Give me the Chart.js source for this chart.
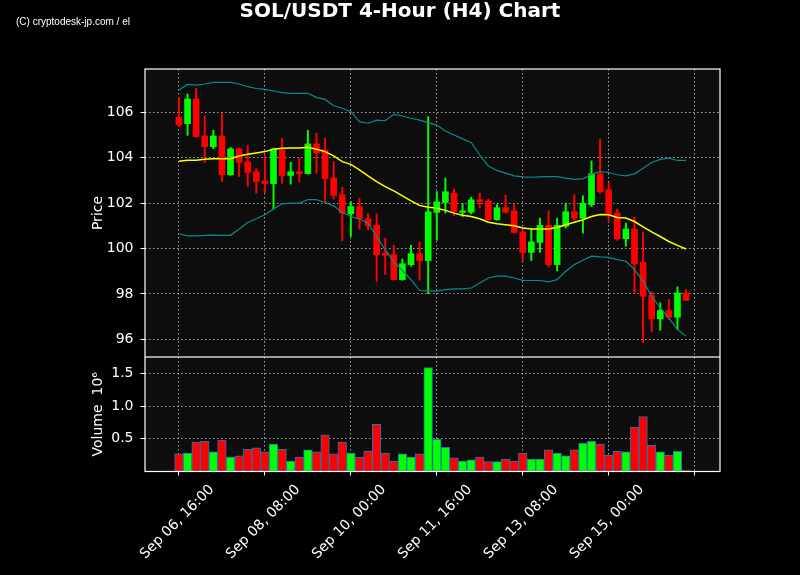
<!DOCTYPE html>
<html>
<head>
<meta charset="utf-8">
<script src="https://cdn.jsdelivr.net/npm/chart.js@4.4.1/dist/chart.umd.min.js"></script>
<style>
  html, body { margin: 0; padding: 0; background: #000; }
  #wrap { position: relative; width: 800px; height: 575px; background: #000; overflow: hidden; }
  #title { position: absolute; left: 0; top: 0; width: 800px; text-align: center; color: #fff;
           font: bold 20px/20px "DejaVu Sans"; }
  #credit { position: absolute; left: 16px; top: 16px; color: #fff; font: 10px/12px "Liberation Sans"; }
  canvas { position: absolute; left: 0; }
  #price { top: 0; }
  #volume { top: 357px; }
</style>
</head>
<body>
<div id="wrap">
  <canvas id="price" width="800" height="357"></canvas>
  <canvas id="volume" width="800" height="218"></canvas>
  <div id="title">SOL/USDT 4-Hour (H4) Chart</div>
  <div id="credit">(C) cryptodesk-jp.com / el</div>
</div>
<script>
// SOL/USDT 4h candles (60 bars, Sep 06 16:00 onwards)
const opens  = [105.78, 105.50, 106.59, 104.96, 104.48, 104.96, 103.25, 104.39, 103.82, 103.38,
                102.98, 102.86, 104.34, 103.22, 103.38, 103.30, 104.61, 104.34, 103.11, 102.37,
                101.53, 101.85, 101.31, 101.02, 99.80, 99.73, 98.63, 99.29, 99.77, 99.47,
                101.59, 102.03, 102.44, 101.59, 101.60, 102.15, 102.10, 101.27, 101.80, 101.66,
                100.73, 99.83, 100.27, 101.02, 99.29, 100.98, 101.62, 101.34, 101.93, 103.29,
                102.59, 101.56, 100.43, 100.86, 99.39, 97.93, 96.90, 97.27, 96.97, 98.04];
const highs  = [106.66, 106.81, 107.05, 105.84, 105.21, 105.96, 104.46, 104.42, 104.55, 103.52,
                104.11, 104.42, 104.86, 103.80, 104.00, 105.21, 105.08, 104.86, 103.83, 102.70,
                102.07, 102.22, 101.53, 101.52, 100.46, 100.14, 99.54, 100.14, 100.29, 105.81,
                102.51, 103.10, 102.62, 101.97, 102.26, 102.44, 102.18, 101.93, 102.35, 101.96,
                100.87, 100.86, 101.34, 101.66, 101.34, 102.00, 102.37, 102.32, 103.86, 104.81,
                102.91, 101.74, 101.12, 101.38, 100.73, 98.10, 97.61, 97.75, 98.31, 98.19];
const lows   = [105.37, 104.99, 104.90, 103.79, 104.40, 102.95, 103.22, 103.17, 102.73, 102.44,
                102.47, 101.74, 102.88, 102.84, 102.92, 103.28, 103.32, 102.07, 102.18, 100.34,
                100.53, 100.86, 100.83, 98.56, 98.85, 98.60, 98.60, 99.22, 98.60, 98.01,
                100.37, 101.56, 101.44, 101.41, 101.53, 101.78, 101.27, 101.24, 101.56, 100.68,
                99.47, 99.47, 99.83, 99.19, 99.01, 100.90, 101.24, 100.68, 101.85, 102.44,
                101.19, 100.36, 100.10, 98.04, 95.85, 96.32, 96.40, 96.87, 96.43, 97.70];
const closes = [105.44, 106.59, 104.93, 104.49, 104.96, 103.26, 104.39, 103.79, 103.35, 102.95,
                102.86, 104.39, 103.22, 103.38, 103.30, 104.61, 104.21, 103.08, 102.34, 101.56,
                101.85, 101.31, 101.02, 99.73, 99.71, 98.63, 99.33, 99.77, 99.47, 101.62,
                102.06, 102.50, 101.63, 101.66, 102.15, 102.06, 101.27, 101.80, 101.60, 100.71,
                99.83, 100.29, 101.02, 99.29, 101.02, 101.62, 101.34, 102.00, 103.29, 102.50,
                101.53, 100.43, 100.86, 99.33, 97.90, 96.90, 97.27, 96.97, 98.04, 97.72];
// volume in units of 10^6
const volumes = [0.27, 0.28, 0.45, 0.46, 0.30, 0.48, 0.22, 0.24, 0.34, 0.36,
                 0.30, 0.42, 0.34, 0.16, 0.22, 0.33, 0.30, 0.56, 0.27, 0.45,
                 0.28, 0.22, 0.31, 0.72, 0.28, 0.16, 0.27, 0.22, 0.27, 1.59,
                 0.49, 0.37, 0.21, 0.16, 0.18, 0.22, 0.15, 0.15, 0.19, 0.16,
                 0.28, 0.19, 0.19, 0.33, 0.28, 0.24, 0.33, 0.43, 0.46, 0.42,
                 0.25, 0.31, 0.30, 0.68, 0.84, 0.40, 0.30, 0.25, 0.31, 0.02];
// Bollinger bands as drawn
const bbUpper = [106.98, 107.23, 107.20, 107.25, 107.32, 107.32, 107.32, 107.25, 107.13, 107.05,
                 107.01, 106.94, 106.87, 106.84, 106.84, 106.84, 106.66, 106.57, 106.29, 106.18,
                 106.03, 105.59, 105.52, 105.66, 105.63, 105.91, 105.84, 105.74, 105.66, 105.55,
                 105.44, 105.18, 105.00, 104.83, 104.67, 104.12, 103.64, 103.44, 103.32, 103.20,
                 103.16, 103.14, 103.16, 103.17, 103.17, 103.10, 103.05, 103.07, 103.27, 103.39,
                 103.35, 103.25, 103.20, 103.29, 103.54, 103.79, 103.93, 103.98, 103.88, 103.88];
const bbMid   = [103.85, 103.89, 103.89, 103.93, 103.95, 103.95, 103.96, 104.08, 104.15, 104.21,
                 104.27, 104.37, 104.42, 104.43, 104.43, 104.46, 104.37, 104.27, 104.08, 103.83,
                 103.71, 103.47, 103.20, 102.95, 102.73, 102.54, 102.32, 102.10, 101.90, 101.82,
                 101.78, 101.68, 101.56, 101.47, 101.41, 101.31, 101.16, 101.09, 101.05, 101.00,
                 100.90, 100.86, 100.86, 100.86, 100.93, 101.05, 101.16, 101.27, 101.41, 101.50,
                 101.49, 101.37, 101.34, 101.19, 100.95, 100.73, 100.53, 100.31, 100.14, 99.98];
const bbLower = [100.65, 100.56, 100.56, 100.58, 100.59, 100.58, 100.58, 100.86, 101.15, 101.31,
                 101.49, 101.74, 101.97, 102.00, 102.00, 102.15, 102.15, 102.03, 101.88, 101.59,
                 101.41, 101.30, 101.12, 100.53, 99.95, 99.41, 99.03, 98.63, 98.15, 98.12,
                 98.12, 98.19, 98.22, 98.22, 98.26, 98.48, 98.70, 98.78, 98.78, 98.70,
                 98.60, 98.59, 98.59, 98.53, 98.63, 99.00, 99.29, 99.48, 99.66, 99.63,
                 99.61, 99.51, 99.44, 99.07, 98.56, 97.90, 97.38, 96.94, 96.43, 96.14];

const tickIndex  = [0, 10, 20, 30, 40, 50, 60];
const tickLabels = ['Sep 06, 16:00', 'Sep 08, 08:00', 'Sep 10, 00:00', 'Sep 11, 16:00',
                    'Sep 13, 08:00', 'Sep 15, 00:00', ''];
const priceTicks  = [96, 98, 100, 102, 104, 106];
const volumeTicks = [0.5, 1.0, 1.5];

const UP = '#00ff00', DOWN = '#ff0000';
const GRID = 'rgba(200,200,200,0.8)';
const DOTS = [1.5, 2.5];
const FONT = { family: 'DejaVu Sans', size: 14 };

const candleColors = closes.map((c, i) => c >= opens[i] ? UP : DOWN);
const xy = arr => arr.map((v, i) => ({ x: i, y: v }));

// dark panel + white frame
const panel = {
    id: 'panel',
    beforeDraw(chart) {
        const { ctx, chartArea: a } = chart;
        ctx.save();
        ctx.fillStyle = '#0d0d0d';
        ctx.fillRect(a.left, a.top, a.width, a.height);
        ctx.restore();
    },
    afterDraw(chart) {
        const { ctx, chartArea: a } = chart;
        ctx.save();
        ctx.strokeStyle = '#ffffff';
        ctx.lineWidth = 1.2;
        ctx.strokeRect(a.left, a.top, a.width, a.height);
        ctx.restore();
    }
};

function xScale(showLabels) {
    return {
        type: 'linear',
        min: -3.95,
        max: 62.95,
        offset: false,
        afterBuildTicks: s => { s.ticks = tickIndex.map(v => ({ value: v })); },
        afterFit: s => {
            s.paddingLeft = 0;
            s.paddingRight = 0;
            s.height = showLabels ? 103.5 : 0;
        },
        grid: {
            offset: false, color: GRID, lineWidth: 1,
            drawTicks: showLabels, tickLength: 4, tickColor: '#fff', tickWidth: 1
        },
        border: { display: false, dash: DOTS },
        ticks: {
            display: showLabels, autoSkip: false, minRotation: 45, maxRotation: 45,
            padding: 6, labelOffset: 33, color: '#fff', font: FONT,
            callback: v => { const i = tickIndex.indexOf(v); return i < 0 ? '' : tickLabels[i]; }
        }
    };
}

function yScale(min, max, ticks, fmt, title) {
    return {
        min: min,
        max: max,
        afterBuildTicks: s => { s.ticks = ticks.map(v => ({ value: v })); },
        afterFit: s => { s.width = 145; s.paddingTop = 0; s.paddingBottom = 0; },
        grid: {
            color: GRID, lineWidth: 1,
            tickLength: 4.5, tickColor: '#fff', tickWidth: 1
        },
        border: { display: false, dash: DOTS },
        ticks: { padding: 7, color: '#fff', font: FONT, callback: fmt },
        title: { display: true, text: title, color: '#fff', font: FONT, padding: { top: 90, bottom: 0 } }
    };
}

const common = {
    responsive: false,
    animation: false,
    plugins: { legend: { display: false }, tooltip: { enabled: false } }
};

// Price panel
new Chart(document.getElementById('price'), {
    type: 'bar',
    data: {
        datasets: [
            { type: 'line', data: xy(bbUpper), borderColor: '#0b8a8a', borderWidth: 1.2, pointRadius: 0, tension: 0 },
            { type: 'line', data: xy(bbMid), borderColor: '#ffff00', borderWidth: 1.5, pointRadius: 0, tension: 0 },
            { type: 'line', data: xy(bbLower), borderColor: '#0b8a8a', borderWidth: 1.2, pointRadius: 0, tension: 0 },
            {
                type: 'bar', grouped: false, barThickness: 6, borderWidth: 0,
                data: opens.map((o, i) => ({ x: i, y: [o, closes[i]] })),
                backgroundColor: candleColors
            },
            {
                type: 'bar', grouped: false, barThickness: 1.3, borderWidth: 0,
                data: lows.map((l, i) => ({ x: i, y: [l, highs[i]] })),
                backgroundColor: candleColors
            }
        ]
    },
    options: {
        ...common,
        layout: { padding: { left: 0, top: 69, right: 80, bottom: 0 } },
        scales: {
            x: xScale(false),
            y: yScale(95.22, 107.91, priceTicks, v => String(v), 'Price')
        }
    },
    plugins: [panel]
});

// Volume panel
new Chart(document.getElementById('volume'), {
    type: 'bar',
    data: {
        datasets: [{
            data: xy(volumes),
            backgroundColor: candleColors,
            borderColor: '#1f77b4',
            borderWidth: 1,
            borderSkipped: false,
            barThickness: 8.6,
            grouped: false
        }]
    },
    options: {
        ...common,
        layout: { padding: { left: 0, top: 0, right: 80, bottom: 0 } },
        scales: {
            x: xScale(true),
            y: yScale(0, 1.75, volumeTicks, v => v.toFixed(1), 'Volume  10\u2076')
        }
    },
    plugins: [panel]
});
</script>
</body>
</html>
